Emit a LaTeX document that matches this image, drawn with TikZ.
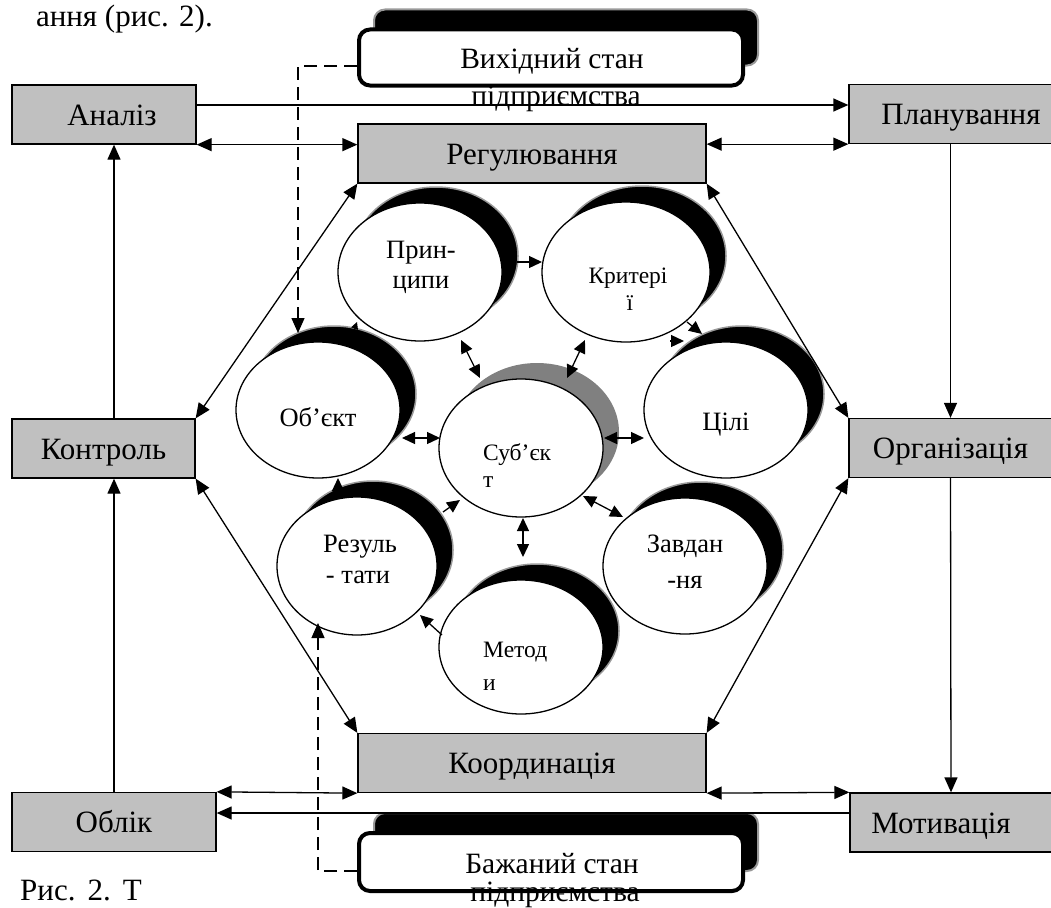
\documentclass[tikz,border=0pt]{standalone}
\usepackage{fontspec}
\setmainfont{Liberation Serif}
\usetikzlibrary{shapes.geometric,shadows,calc,arrows.meta}
\definecolor{boxgray}{HTML}{C0C0C0}
\definecolor{subjshadow}{HTML}{808080}
\begin{document}
\begin{tikzpicture}[x=1pt,y=-1pt,
  box/.style={draw, line width=1.3pt, fill=boxgray, minimum height=59pt, inner sep=0pt, text height=21pt, text depth=0pt, font=\fontsize{31}{31}\selectfont},
  ell/.style={ellipse, draw, line width=1.3pt, fill=white, inner sep=0pt,
    drop shadow={shadow xshift=16pt, shadow yshift=16pt, fill=black, draw=black!40, line width=1.5pt, opacity=1}},
  gell/.style={ellipse, draw, line width=1.3pt, fill=white, inner sep=0pt,
    drop shadow={shadow xshift=16pt, shadow yshift=16pt, fill=subjshadow, opacity=1}},
  rbox/.style={draw, line width=4pt, fill=white, rounded corners=11pt, minimum width=384pt, minimum height=56pt, inner sep=0pt,
    drop shadow={shadow xshift=15pt, shadow yshift=20pt, fill=black, draw=black!40, line width=2pt, opacity=1}},
  et/.style={font=\fontsize{26.5}{30}\selectfont, inner sep=0pt, anchor=base},
  st/.style={font=\fontsize{23.5}{27}\selectfont, inner sep=0pt, anchor=base},
  bt/.style={font=\fontsize{29.5}{30}\selectfont, inner sep=0pt, anchor=base},
  arr/.style={-{Triangle[length=15pt,width=13pt]}, line width=1.3pt},
  darr/.style={{Triangle[length=15pt,width=13pt]}-{Triangle[length=15pt,width=13pt]}, line width=1.3pt},
  sarr/.style={-{Triangle[length=13pt,width=12pt]}, line width=1.3pt},
  sdarr/.style={{Triangle[length=13pt,width=12pt]}-{Triangle[length=13pt,width=12pt]}, line width=1.3pt},
  dashline/.style={dash pattern=on 13pt off 7pt, line width=1.3pt}
]
\useasboundingbox (0,0) rectangle (1051,907);

% surrounding document text
\node[font=\fontsize{31}{31}\selectfont, anchor=base east, inner sep=0pt] (toptext) at (213,27) {ання (рис. 2).};
\node[font=\fontsize{31}{31}\selectfont, anchor=base west, inner sep=0pt] (captext) at (20,900) {Рис.\hspace{12pt}2.\hspace{12pt}Т};

% rectangular boxes
\node[box, minimum width=184pt] (ana) at (104,114.5) {\hspace*{16pt}Аналіз};
\node[box, minimum width=203pt] (plan) at (950.5,114) {\hspace*{21pt}Планування};
\node[box, minimum width=348pt] (reg) at (532,153.5) {Регулювання};
\node[box, minimum width=183pt] (kon) at (103.5,448.5) {Контроль};
\node[box, minimum width=203pt] (org) at (950.5,448) {Організація};
\node[box, minimum width=348pt] (koord) at (532,763) {Координація};
\node[box, minimum width=204pt] (obl) at (114,822) {Облік};
\node[box, minimum width=202pt] (mot) at (951,822.5) {Мотивація\hspace*{20pt}};

% rounded state boxes
\node[rbox] (top) at (551,57.5) {};
\node[bt] (ttop1) at (552,68) {Вихідний стан};
\node[bt] (ttop2) at (556,105) {підприємства};
\node[rbox, minimum height=58pt] (bot) at (551,862) {};
\node[bt] (tbot1) at (552,873) {Бажаний стан};
\node[bt] (tbot2) at (555,901) {підприємства};

% ellipses
\node[ell, minimum width=164pt, minimum height=138pt] (prin) at (420,272) {};
\node[ell, minimum width=168pt, minimum height=140pt] (krit) at (626,272) {};
\node[ell, minimum width=164pt, minimum height=136pt] (obj) at (318,410) {};
\node[gell, minimum width=164pt, minimum height=138pt] (subj) at (521,448) {};
\node[ell, minimum width=164pt, minimum height=136pt] (cili) at (726,410) {};
\node[ell, minimum width=160pt, minimum height=138pt] (rez) at (357,566) {};
\node[ell, minimum width=164pt, minimum height=134pt] (met) at (521,647) {};
\node[ell, minimum width=164pt, minimum height=136pt] (zav) at (685,566) {};

% ellipse texts
\node[et] (tprin1) at (421,258) {Прин-};
\node[et] (tprin2) at (421,288) {ципи};
\node[st] (tkrit1) at (628,283) {Критері};
\node[st] (tkrit2) at (630,310) {ї};
\node[et] (tobj) at (318,426) {Об’єкт};
\node[st, anchor=base west] (tsubj1) at (483,460) {Суб’єк};
\node[st, anchor=base west] (tsubj2) at (483,487) {т};
\node[et] (tcili) at (726,430) {Цілі};
\node[et] (trez1) at (360,552) {Резуль};
\node[et] (trez2) at (358,583) {- тати};
\node[et] (tzav1) at (685,552) {Завдан};
\node[et] (tzav2) at (685,588) {-ня};
\node[st, anchor=base west] (tmet1) at (483,657) {Метод};
\node[st, anchor=base west] (tmet2) at (483,690) {и};

% outer connectors
\draw[arr] ($(ana.east)+(0,-9.5)$) -- ($(plan.west)+(0,-9)$);
\draw[darr] (ana.south east) -- (reg.west |- ana.south east);
\draw[darr] (reg.east |- plan.south west) -- (plan.south west);
\draw[arr] (plan.south) -- (org.north);
\draw[arr] (org.south) -- (mot.north);
\draw[arr] (kon.north -| obl.north) -- (ana.south -| obl.north);
\draw[arr] (obl.north) -- (kon.south -| obl.north);
\draw[darr] (obl.north east) -- (koord.south west);
\draw[darr] (koord.south east) -- (mot.north west);
\draw[arr] ($(mot.west)+(0,-9.5)$) -- ($(obl.east)+(0,-9)$);

% hexagon
\draw[darr] (kon.north east) -- (reg.south west);
\draw[darr] (reg.south east) -- (org.north west);
\draw[darr] (kon.south east) -- (koord.north west);
\draw[darr] (org.south west) -- (koord.north east);

% dashed links
\draw[arr, dashline] ($(top.west)+(0,8.5)$) -| ($(obj)+(-20,-77)$);
\draw[arr, dashline] ($(bot.west)+(0,9)$) -| ($(rez)+(-39,57)$);

% inner connectors
\draw[sarr] ($(prin)+(97,-10)$) -- ($(krit)+(-84,-10)$);
\draw[sarr] ($(krit)+(61,50)$) -- ($(krit)+(76,62)$);
\draw[sarr] ($(krit)+(44,69)$) -- ($(krit)+(58,69)$);
\draw[sdarr] ($(subj)+(-60,-108)$) -- ($(subj)+(-41,-70)$);
\draw[sdarr] ($(subj)+(64,-108)$) -- ($(subj)+(46,-70)$);
\draw[sdarr] ($(obj)+(84,28)$) -- ($(subj)+(-81,-10)$);
\draw[sdarr] ($(subj)+(83,-10)$) -- ($(cili)+(-82,28)$);
\draw[sarr] ($(rez)+(86,-54)$) -- ($(subj)+(-61,52)$);
\draw[sdarr] ($(subj)+(62,48)$) -- ($(zav)+(-62,-49)$);
\draw[sdarr] ($(subj)+(2,70)$) -- ($(met)+(2,-90)$);
\draw[sarr] ($(met)+(-79,-12)$) -- ($(rez)+(63,49)$);
\draw[sarr] ($(rez)+(-19,-72)$) -- ($(obj)+(20,68)$);
\draw[-{Triangle[length=7pt,width=7pt]}, line width=1pt] ($(obj)+(36,-80)$) -- ($(prin)+(-63,50)$);
\end{tikzpicture}
\end{document}
